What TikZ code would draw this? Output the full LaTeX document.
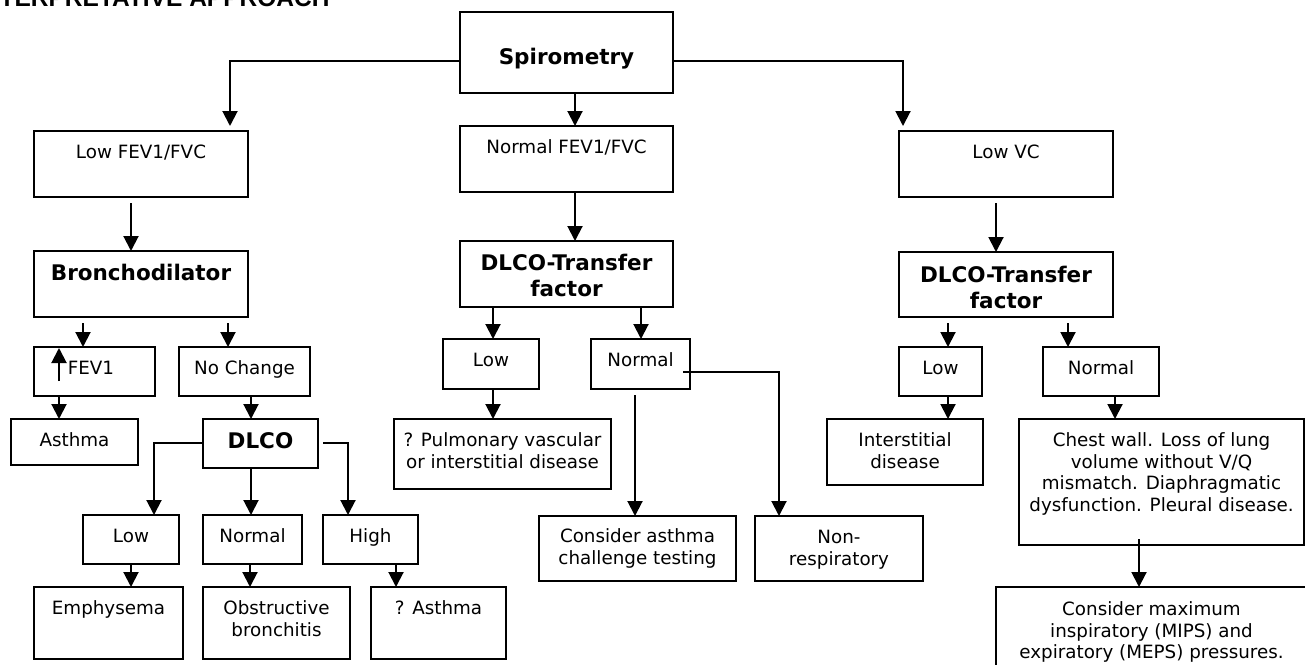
\documentclass[tikz,border=0pt]{standalone}
\usepackage{fontspec}
\setmainfont{DejaVu Sans}
\newfontfamily\ttlfont{Liberation Sans}
\usetikzlibrary{arrows.meta}

\tikzset{
  bx/.style={draw, line width=2pt, inner sep=0pt, outer sep=0pt, anchor=north west,
             font=\fontsize{18.3}{21.5}\selectfont},
  conn/.style={line width=2pt, -{Triangle[width=15pt,length=15pt]}},
  plain/.style={line width=2pt}
}
% box: [top inset]{name}{x1}{y1}{x2}{y2}{text}
\newcommand\pbx[7][12.6]{\node[bx] (#2) at (#3,#4) {\parbox[c][\dimexpr #6pt-#4pt\relax][t]{\dimexpr #5pt-#3pt\relax}{\centering\vspace*{#1pt}\strut #7\par}};}
\newcommand\pbxb[7][11.6]{\node[bx] (#2) at (#3,#4) {\parbox[c][\dimexpr #6pt-#4pt\relax][t]{\dimexpr #5pt-#3pt\relax}{\bfseries\fontsize{21.5}{26}\selectfont\centering\vspace*{#1pt}\strut #7\par}};}
\newcommand\varr[4][]{\draw[conn,#1] (#2.south -| #4,0) -- (#3.north -| #4,0);}

\begin{document}
\begin{tikzpicture}[x=1pt,y=-1pt]
\useasboundingbox (0,0) rectangle (1305,664);

\node[anchor=base east, font=\ttlfont\bfseries\fontsize{24.5}{29}\selectfont] (title) at (333,6) {INTERPRETATIVE APPROACH};

% boxes
\pbxb[34.6]{spiro}{460}{12}{673}{93}{Spirometry}
\pbx{lowfev}{34}{131}{248}{197}{Low FEV1/FVC}
\pbx{normfev}{460}{126}{673}{192}{Normal FEV1/FVC}
\pbx{lowvc}{899}{131}{1113}{197}{Low VC}
\pbxb{bronch}{34}{251}{248}{317}{Bronchodilator}
\pbxb{dlcoc}{460}{241}{673}{307}{DLCO-Transfer\\factor}
\pbxb[12.6]{dlcor}{899}{252}{1113}{317}{DLCO-Transfer\\factor}
\pbx{fev}{34}{347}{155}{396}{\hspace*{-7pt}FEV1}
\pbx{nochg}{179}{347}{310}{396}{No Change}
\pbx{lowc}{443}{339}{539}{389}{Low}
\pbx{normc}{591}{339}{690}{389}{Normal}
\pbx{lowr}{899}{347}{982}{396}{Low}
\pbx{normr}{1043}{347}{1159}{396}{Normal}
\pbx{asthma}{11}{419}{138}{465}{Asthma}
\pbxb{dlco}{203}{419}{318}{468}{DLCO}
\pbx{pulm}{394}{419}{611}{489}{? Pulmonary vascular\\or interstitial disease}
\pbx{inter}{827}{419}{983}{485}{Interstitial\\disease}
\pbx{chest}{1019}{419}{1304}{545}{Chest wall. Loss of lung\\volume without V/Q\\mismatch. Diaphragmatic\\dysfunction. Pleural disease.}
\pbx{lowd}{83}{515}{179}{564}{Low}
\pbx{normd}{203}{515}{302}{564}{Normal}
\pbx{highd}{323}{515}{418}{564}{High}
\pbx[11.6]{consa}{539}{516}{736}{581}{Consider asthma\\challenge testing}
\pbx{nonr}{755}{516}{923}{581}{Non-\\respiratory}
\pbx{emph}{34}{587}{183}{659}{Emphysema}
\pbx{obst}{203}{587}{350}{659}{Obstructive\\bronchitis}
\pbx{qasth}{371}{587}{506}{659}{? Asthma}
\pbx[13.6]{consm}{996}{587}{1307}{700}{Consider maximum\\inspiratory (MIPS) and\\expiratory (MEPS) pressures.}

% bends
\coordinate (b1) at (230,61);
\coordinate (b2) at (903,61);
\coordinate (b3) at (154,443);
\coordinate (b4) at (348,443);
\coordinate (b5) at (683,372);
\coordinate (b6) at (779,372);
\coordinate (u1) at (59,381);

\draw[conn,shorten >=5pt] (spiro.west |- b1) -- (b1) -- (b1 |- lowfev.north);
\draw[conn,shorten >=5pt] (spiro.east |- b2) -- (b2) -- (b2 |- lowvc.north);
\draw[conn] (dlco.west |- b3) -- (b3) -- (b3 |- lowd.north);
\draw[conn,shorten <=5pt] (dlco.east |- b4) -- (b4) -- (b4 |- highd.north);
\draw[conn] (b5) -- (b6) -- (b6 |- nonr.north);
\draw[conn,shorten >=1pt] (u1) -- (u1 |- fev.north);

\varr{spiro}{normfev}{575}
\varr[shorten <=6pt]{lowfev}{bronch}{131}
\varr{normfev}{dlcoc}{575}
\varr[shorten <=6pt]{lowvc}{dlcor}{996}
\varr[shorten <=6pt]{bronch}{fev}{83}
\varr[shorten <=6pt]{bronch}{nochg}{228}
\varr{dlcoc}{lowc}{493}
\varr{dlcoc}{normc}{641}
\varr[shorten <=6pt]{dlcor}{lowr}{948}
\varr[shorten <=6pt]{dlcor}{normr}{1068}
\varr{fev}{asthma}{59}
\varr{nochg}{dlco}{251}
\varr{dlco}{normd}{251}
\varr{lowd}{emph}{131}
\varr{normd}{obst}{250}
\varr{highd}{qasth}{396}
\varr{lowc}{pulm}{493}
\varr[shorten <=6pt]{normc}{consa}{635}
\varr{lowr}{inter}{948}
\varr{normr}{chest}{1115}
\varr[shorten <=-6pt]{chest}{consm}{1139}
\end{tikzpicture}
\end{document}
